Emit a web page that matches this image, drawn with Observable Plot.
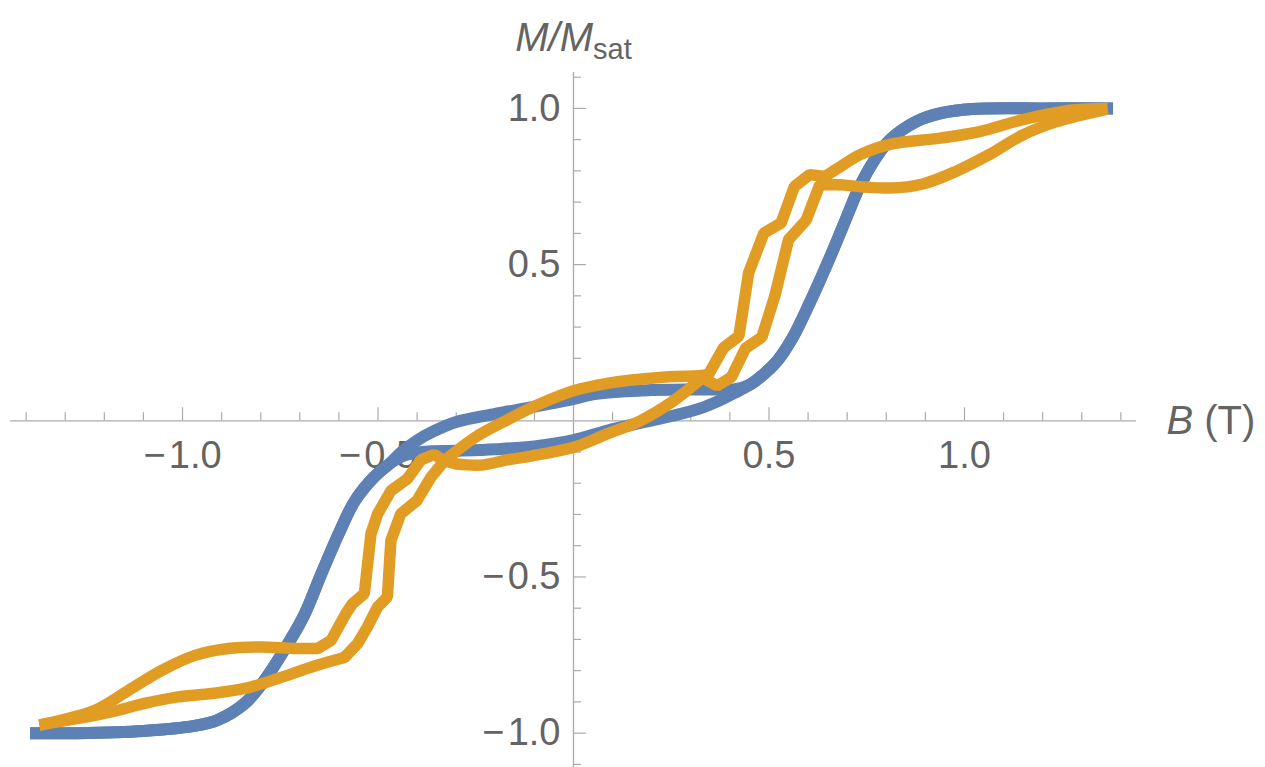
<!DOCTYPE html>
<html>
<head>
<meta charset="utf-8">
<script src="https://cdn.jsdelivr.net/npm/d3@7"></script>
<script src="https://cdn.jsdelivr.net/npm/@observablehq/plot@0.6"></script>
<style>
  html, body { margin: 0; padding: 0; background: #fff; }
  #chart { width: 1265px; height: 767px; }
</style>
</head>
<body>
<div id="chart"></div>
<script>
// ---- data: [B (T), M/Msat] pairs ----
const blueAscending = [[-1.39,-1.0],[-1.27,-1.0],[-1.1,-0.993],[-0.97,-0.977],[-0.91,-0.958],[-0.84,-0.904],[-0.79,-0.83],[-0.74,-0.734],[-0.69,-0.625],[-0.645,-0.49],[-0.60,-0.36],[-0.56,-0.258],[-0.51,-0.18],[-0.47,-0.137],[-0.43,-0.11],[-0.38,-0.099],[-0.3,-0.096],[-0.2,-0.091],[-0.1,-0.082],[0,-0.062],[0.085,-0.032],[0.17,-0.007],[0.254,0.016],[0.32,0.038],[0.37,0.063],[0.41,0.088],[0.45,0.115],[0.48,0.142],[0.52,0.19],[0.56,0.265],[0.605,0.38],[0.648,0.5],[0.69,0.625],[0.73,0.745],[0.77,0.835],[0.81,0.9],[0.88,0.96],[0.94,0.985],[1.02,0.998],[1.2,1.0],[1.38,1.0]];
const blueDescending = [[1.38,1.0],[1.2,1.0],[1.02,0.998],[0.94,0.985],[0.88,0.96],[0.81,0.9],[0.77,0.835],[0.73,0.745],[0.69,0.625],[0.648,0.5],[0.605,0.38],[0.56,0.265],[0.52,0.19],[0.48,0.142],[0.45,0.115],[0.41,0.1],[0.37,0.1],[0.3,0.1],[0.18,0.097],[0.05,0.085],[0,0.07],[-0.1,0.045],[-0.2,0.022],[-0.3,-0.004],[-0.36,-0.035],[-0.4,-0.063],[-0.44,-0.1],[-0.47,-0.137],[-0.51,-0.18],[-0.56,-0.258],[-0.60,-0.36],[-0.645,-0.49],[-0.69,-0.625],[-0.74,-0.734],[-0.79,-0.83],[-0.84,-0.904],[-0.91,-0.958],[-0.97,-0.977],[-1.1,-0.993],[-1.27,-1.0],[-1.39,-1.0]];
const orangeAscending = [[-1.366,-0.974],[-1.267,-0.953],[-1.182,-0.932],[-1.097,-0.905],[-1.011,-0.884],[-0.926,-0.873],[-0.84,-0.857],[-0.756,-0.825],[-0.662,-0.785],[-0.586,-0.758],[-0.552,-0.713],[-0.527,-0.66],[-0.501,-0.596],[-0.476,-0.564],[-0.467,-0.383],[-0.442,-0.298],[-0.4,-0.255],[-0.365,-0.181],[-0.33,-0.128],[-0.3,-0.138],[-0.237,-0.142],[-0.169,-0.125],[-0.109,-0.113],[0,-0.085],[0.086,-0.042],[0.171,0.0],[0.256,0.064],[0.33,0.138],[0.367,0.112],[0.404,0.14],[0.44,0.232],[0.482,0.268],[0.515,0.40],[0.55,0.58],[0.595,0.642],[0.63,0.756],[0.681,0.756],[0.809,0.745],[0.893,0.758],[0.979,0.799],[1.063,0.852],[1.149,0.915],[1.234,0.957],[1.366,0.998]];
const orangeDescending = [[1.366,1.0],[1.277,0.995],[1.149,0.964],[1.039,0.926],[0.937,0.905],[0.809,0.885],[0.733,0.852],[0.681,0.812],[0.643,0.782],[0.604,0.788],[0.565,0.75],[0.531,0.633],[0.487,0.601],[0.448,0.474],[0.423,0.271],[0.384,0.234],[0.345,0.148],[0.324,0.144],[0.213,0.138],[0.086,0.12],[0,0.096],[-0.084,0.055],[-0.169,0.003],[-0.254,-0.055],[-0.33,-0.128],[-0.357,-0.108],[-0.39,-0.125],[-0.425,-0.186],[-0.467,-0.224],[-0.501,-0.298],[-0.518,-0.362],[-0.535,-0.553],[-0.565,-0.585],[-0.582,-0.617],[-0.62,-0.703],[-0.654,-0.729],[-0.713,-0.729],[-0.798,-0.724],[-0.883,-0.729],[-0.968,-0.751],[-1.053,-0.799],[-1.138,-0.863],[-1.224,-0.927],[-1.309,-0.958],[-1.366,-0.974]];
// index ranges of the stepped (unsmoothed) stretches of each orange branch
const orangeAscendingSteps = [[9, 19], [27, 36]];
const orangeDescendingSteps = [[8, 17], [24, 35]];

const xMajorTicks = [-1.0, -0.5, 0.5, 1.0];
const xMinorTicks = [-1.4,-1.3,-1.2,-1.1,-0.9,-0.8,-0.7,-0.6,-0.4,-0.3,-0.2,-0.1,0.1,0.2,0.3,0.4,0.6,0.7,0.8,0.9,1.1,1.2,1.3,1.4];
const yMajorTicks = [-1.0, -0.5, 0.5, 1.0];
const yMinorTicks = [-1.1,-0.9,-0.8,-0.7,-0.6,-0.4,-0.3,-0.2,-0.1,0.1,0.2,0.3,0.4,0.6,0.7,0.8,0.9,1.1];
const xLabel = "B (T)";
const yLabel = "M/Msat";

// ---- drawing ----
const xDomain = [-1.44, 1.44];
const yDomain = [-1.11, 1.115];
const axisColor = "#ababab";
const textColor = "#646464";
const blue = "#5E81B5";
const orange = "#E19C24";
const fmt = d => (d < 0 ? "\u2212\u200A" : "") + Math.abs(d).toFixed(1);
const P = d => d[0], Q = d => d[1];

// split a branch into smooth and stepped pieces
function pieces(data, steps) {
  const out = [];
  let start = 0;
  for (const [a, b] of steps) {
    if (a > start) out.push({pts: data.slice(start, a + 1), smooth: true});
    out.push({pts: data.slice(a, b + 1), smooth: false});
    start = b;
  }
  if (start < data.length - 1) out.push({pts: data.slice(start), smooth: true});
  return out;
}
const orangePieces = [...pieces(orangeAscending, orangeAscendingSteps), ...pieces(orangeDescending, orangeDescendingSteps)];
const orangeJoints = [
  ...orangeAscendingSteps.flat().map(i => orangeAscending[i]),
  ...orangeDescendingSteps.flat().map(i => orangeDescending[i])
];

const orangeMarks = orangePieces.map(p => Plot.line(p.pts, {
  x: P, y: Q, stroke: orange, strokeWidth: 11.5,
  curve: p.smooth ? "catmull-rom" : "linear",
  strokeLinecap: "butt", strokeLinejoin: "miter"
}));

const svg = Plot.plot({
  width: 1265,
  height: 767,
  margin: 0,
  style: {fontFamily: "'Liberation Sans', Arial, sans-serif", background: "#fff", overflow: "visible"},
  x: {domain: xDomain, range: [10, 1136], axis: null},
  y: {domain: yDomain, range: [767, 72], axis: null},
  marks: [
    Plot.ruleY([0], {x1: xDomain[0], x2: xDomain[1], stroke: axisColor, strokeWidth: 1.3}),
    Plot.ruleX([0], {y1: yDomain[0], y2: yDomain[1], stroke: axisColor, strokeWidth: 1.3}),
    Plot.ruleX(xMinorTicks, {x: d => d, y1: 0, y2: 0.0256, stroke: axisColor, strokeWidth: 1.2}),
    Plot.ruleX(xMajorTicks, {x: d => d, y1: 0, y2: 0.0416, stroke: axisColor, strokeWidth: 1.2}),
    Plot.ruleY(yMinorTicks, {y: d => d, x1: 0, x2: 0.0205, stroke: axisColor, strokeWidth: 1.2}),
    Plot.ruleY(yMajorTicks, {y: d => d, x1: 0, x2: 0.0332, stroke: axisColor, strokeWidth: 1.2}),
    Plot.text(xMajorTicks, {x: d => d, y: 0, dy: 35, text: fmt, fontSize: 38, fill: textColor}),
    Plot.text(yMajorTicks, {x: 0, y: d => d, dx: -13, text: fmt, textAnchor: "end", fontSize: 38, fill: textColor}),
    Plot.line(blueAscending, {x: P, y: Q, stroke: blue, strokeWidth: 12, curve: "catmull-rom", strokeLinecap: "butt", strokeLinejoin: "round"}),
    Plot.line(blueDescending, {x: P, y: Q, stroke: blue, strokeWidth: 12, curve: "catmull-rom", strokeLinecap: "butt", strokeLinejoin: "round"}),
    ...orangeMarks,
    Plot.dot(orangeJoints, {x: P, y: Q, r: 5.75, fill: orange, stroke: null}),
    Plot.text([yLabel], {x: 0, y: yDomain[1], dy: -34, text: d => d, fontSize: 40, fill: textColor}),
    Plot.text([xLabel], {x: xDomain[1], y: 0, dx: 30, text: d => d, textAnchor: "start", fontSize: 40, fill: textColor})
  ]
});

// rich text for axis labels (italic symbols, subscript)
d3.select(svg).selectAll("text").each(function() {
  const t = this.textContent;
  const s = d3.select(this);
  if (t === yLabel) {
    this.textContent = "";
    s.append("tspan").attr("font-style", "italic").text("M/M");
    s.append("tspan").attr("font-size", 29).attr("dy", 8).text("sat");
  } else if (t === xLabel) {
    this.textContent = "";
    s.append("tspan").attr("font-style", "italic").text("B");
    s.append("tspan").text(" (T)");
  }
});

document.getElementById("chart").appendChild(svg);
</script>
</body>
</html>
